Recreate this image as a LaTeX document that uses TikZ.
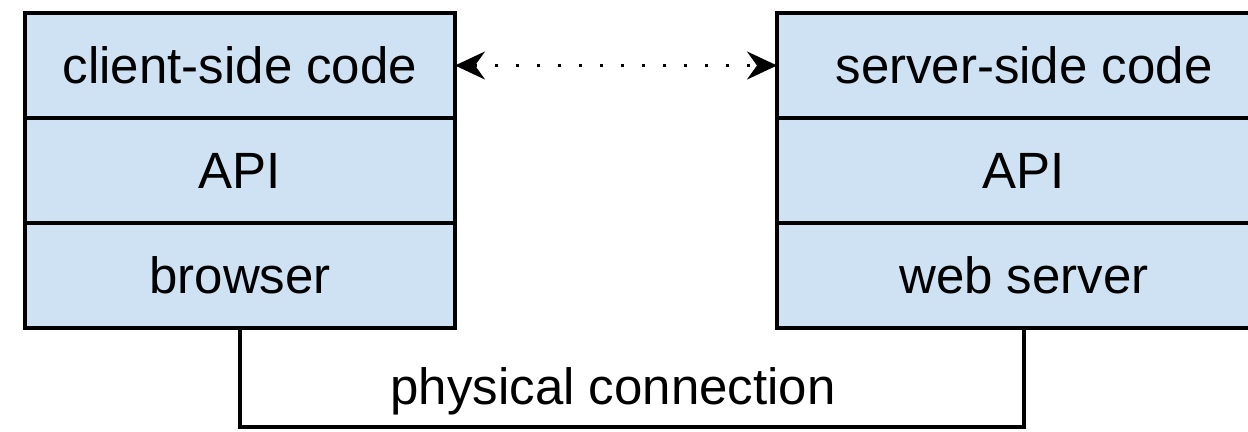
\documentclass[tikz,border=0pt]{standalone}
\usepackage{fontspec}
\setmainfont{Liberation Sans}
\usepackage{xcolor}
\usetikzlibrary{arrows.meta,positioning}
\definecolor{cellblue}{RGB}{207,226,243}

\begin{document}
\begin{tikzpicture}[x=0.5pt,y=-0.5pt,
every node/.style={font=\fontsize{25.5}{30}\selectfont},
cell/.style={draw, line width=2pt, fill=cellblue, minimum height=52.5pt,
  inner sep=0pt, outer sep=0pt},
leftcell/.style={cell, minimum width=215pt},
rightcell/.style={cell, minimum width=247pt}]
\clip (0,0) rectangle (1248,432);
% client stack
\node[leftcell] (client) at (240,65.5) {client-side code};
\node[leftcell, below=0pt of client] (capi) {API};
\node[leftcell, below=0pt of capi] (browser) {browser};
% server stack
\node[rightcell] (server) at (1024,65.5) {server-side code};
\node[rightcell, below=0pt of server] (sapi) {API};
\node[rightcell, below=0pt of sapi] (webserver) {web server};
% logical link
\draw[line width=1.5pt, dash pattern=on 1.5pt off 9pt,
  {Stealth[length=15pt,width=14pt,inset=5pt]}-{Stealth[length=15pt,width=14pt,inset=5pt]}]
  (client.east) -- (server.west);
% wire between the two machines
\coordinate (cl) at (browser.south |- 0,427);
\coordinate (cr) at (webserver.south |- 0,427);
\draw[line width=1.75pt] (browser.south) -- (cl)
  -- node[above, inner sep=5pt, pos=0.476] (phys) {physical connection} (cr)
  -- (webserver.south);
\end{tikzpicture}
\end{document}
